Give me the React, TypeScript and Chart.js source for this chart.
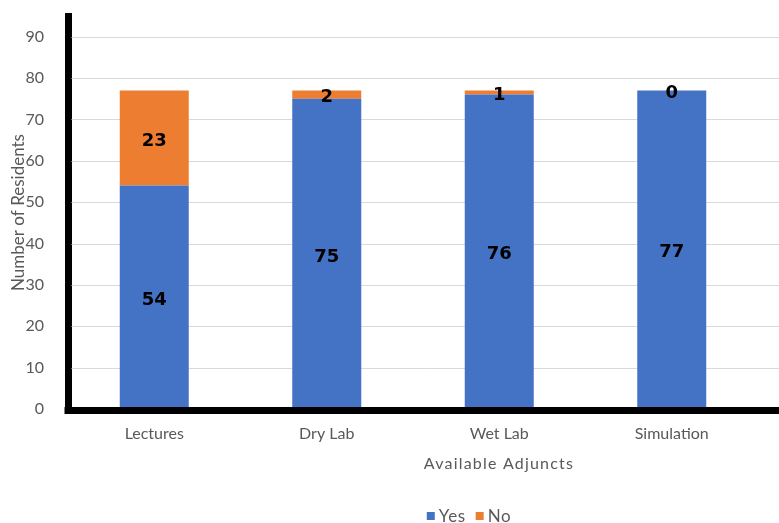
import React, { useEffect, useRef } from 'react';
import { Chart, registerables } from 'chart.js';

Chart.register(...registerables);

const categories = ['Lectures', 'Dry Lab', 'Wet Lab', 'Simulation'];
const yesValues = [54, 75, 76, 77];
const noValues = [23, 2, 1, 0];
const seriesNames = ['Yes', 'No'];
const seriesColors = ['#4472C4', '#ED7D31'];
const yTickValues = [0, 10, 20, 30, 40, 50, 60, 70, 80, 90];
const yAxisMax = 95;
const xTitle = 'Available Adjuncts';
const yTitle = 'Number of Residents';

const FONT = 'Lato, "Open Sans", sans-serif';
const LABEL_FONT = '"DejaVu Sans", sans-serif';
const TEXT = '#595959';

const excelLook = {
  id: 'excelLook',
  beforeDatasetsDraw(chart: any) {
    const { ctx, chartArea, scales } = chart;
    const y = scales.y;
    ctx.save();
    ctx.strokeStyle = '#d9d9d9';
    ctx.lineWidth = 1;
    y.ticks.forEach((t: any) => {
      if (t.value === 0) return;
      const py = Math.round(y.getPixelForValue(t.value)) + 0.5;
      ctx.beginPath();
      ctx.moveTo(chartArea.left + 3.5, py);
      ctx.lineTo(chart.width, py);
      ctx.stroke();
    });
    ctx.restore();
  },
  afterDatasetsDraw(chart: any) {
    const { ctx, chartArea } = chart;
    ctx.save();
    // bottom axis line
    ctx.fillStyle = '#000';
    ctx.fillRect(chartArea.left - 3.5, chartArea.bottom - 2, chart.width, 7);

    // data labels
    ctx.fillStyle = '#000';
    ctx.font = `bold 18px ${LABEL_FONT}`;
    ctx.textAlign = 'center';
    ctx.textBaseline = 'middle';
    chart.data.datasets.forEach((ds: any, di: number) => {
      const meta = chart.getDatasetMeta(di);
      meta.data.forEach((el: any, i: number) => {
        const p = el.getProps(['x', 'y', 'base'], true);
        const cy = (p.y + p.base) / 2;
        ctx.fillText(String(ds.data[i]), p.x, cy + 3);
      });
    });

    // x axis title
    ctx.fillStyle = TEXT;
    ctx.font = `16px ${FONT}`;
    (ctx as any).letterSpacing = '1.2px';
    ctx.textAlign = 'center';
    ctx.textBaseline = 'middle';
    ctx.fillText(xTitle, 499, 464);

    // legend
    ctx.font = `17px ${FONT}`;
    (ctx as any).letterSpacing = '0.6px';
    const box = 8;
    const gapBoxText = 4;
    const gapItems = 10;
    const items = chart.data.datasets.map((ds: any) => ({
      label: ds.label,
      color: ds.backgroundColor,
      w: ctx.measureText(ds.label).width,
    }));
    const total = items.reduce((s: number, it: any) => s + box + gapBoxText + it.w, 0) + gapItems * (items.length - 1);
    let lx = 469 - total / 2;
    const ly = 516;
    ctx.textAlign = 'left';
    items.forEach((it: any) => {
      ctx.fillStyle = it.color;
      ctx.fillRect(lx, ly - box / 2, box, box);
      lx += box + gapBoxText;
      ctx.fillStyle = TEXT;
      ctx.fillText(it.label, lx, ly + 1);
      lx += it.w + gapItems;
    });
    (ctx as any).letterSpacing = '0px';
    ctx.restore();
  },
};

export default function App() {
  const ref = useRef<HTMLCanvasElement | null>(null);

  useEffect(() => {
    if (!ref.current) return;
    const chart = new Chart(ref.current, {
      type: 'bar',
      data: {
        labels: categories,
        datasets: [
          {
            label: seriesNames[0],
            data: yesValues,
            backgroundColor: seriesColors[0],
            barPercentage: 0.4,
            categoryPercentage: 1,
          },
          {
            label: seriesNames[1],
            data: noValues,
            backgroundColor: seriesColors[1],
            barPercentage: 0.4,
            categoryPercentage: 1,
          },
        ],
      },
      options: {
        animation: false,
        responsive: false,
        devicePixelRatio: 1,
        layout: { padding: { top: 16, right: 21, left: 0, bottom: 0 } },
        plugins: {
          legend: { display: false },
          tooltip: { enabled: false },
        },
        scales: {
          x: {
            stacked: true,
            grid: { display: false },
            border: { display: false },
            ticks: { color: TEXT, font: { family: FONT, size: 16 }, padding: 7 },
            afterFit: (s: any) => {
              s.height = 114;
            },
          },
          y: {
            stacked: true,
            min: 0,
            max: yAxisMax,
            grid: { display: false },
            border: { display: true, color: '#000', width: 7 },
            ticks: { stepSize: 10, color: TEXT, font: { family: FONT, size: 16 }, padding: 16 },
            afterBuildTicks: (s: any) => {
              s.ticks = yTickValues.map((v) => ({ value: v }));
            },
            afterFit: (s: any) => {
              s.width = 68;
              s.paddingTop = 0;
              s.paddingBottom = 0;
            },
            title: {
              display: true,
              text: yTitle,
              color: TEXT,
              font: { family: FONT, size: 17 },
              padding: { top: 8, bottom: 0 },
            },
          },
        },
      },
      plugins: [excelLook],
    });
    return () => chart.destroy();
  }, []);

  return (
    <canvas
      ref={ref}
      width={779}
      height={523}
      style={{ position: 'fixed', left: 0, top: 0, width: 779, height: 523, display: 'block', background: '#fff' }}
    />
  );
}
